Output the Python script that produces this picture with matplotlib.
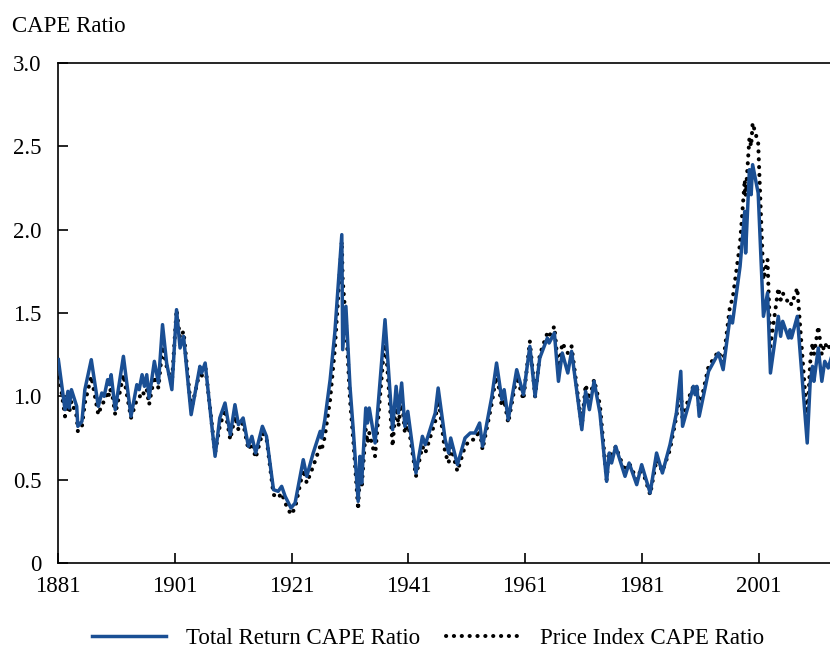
import matplotlib
matplotlib.use("Agg")
import matplotlib.pyplot as plt
from matplotlib.lines import Line2D

plt.rcParams['font.family'] = ['Liberation Serif', 'DejaVu Serif']

years = [1881.06, 1882.2, 1882.7, 1882.9, 1883.3, 1884.2, 1884.4, 1885.1, 1885.6, 1886.7,
         1887.9, 1888.5, 1888.9, 1889.5, 1889.8, 1890.1, 1890.8, 1892.2, 1893.5, 1894.5,
         1894.9, 1895.4, 1895.8, 1896.2, 1896.6, 1897.5, 1898.2, 1898.9, 1899.6, 1900.5,
         1901.3, 1901.9, 1902.5, 1903.8, 1905.3, 1905.6, 1906.2, 1907.9, 1908.7, 1909.6,
         1910.5, 1911.3, 1911.9, 1912.7, 1913.6, 1914.2, 1914.85, 1916.0, 1916.7, 1917.9,
         1918.7, 1919.3, 1919.9, 1920.9, 1921.6, 1923.0, 1923.6, 1924.7, 1925.9, 1926.15,
         1926.7, 1927.6, 1928.4, 1929.6, 1929.75, 1930.3, 1931.0, 1931.6, 1932.4, 1932.7,
         1933.0, 1933.7, 1934.0, 1934.3, 1935.3, 1937.0, 1937.7, 1938.3, 1938.9, 1939.3,
         1939.85, 1940.4, 1940.9, 1942.3, 1943.4, 1943.9, 1945.6, 1946.1, 1947.3, 1947.9,
         1948.25, 1949.4, 1950.7, 1951.6, 1952.4, 1953.2, 1953.7, 1955.3, 1956.1, 1957.0,
         1957.4, 1958.1, 1959.55, 1960.7, 1961.8, 1962.7, 1963.5, 1964.8, 1965.1, 1966.0,
         1966.7, 1967.35, 1968.3, 1968.95, 1970.7, 1971.35, 1972.0, 1972.8, 1973.8, 1974.95,
         1975.4, 1975.8, 1976.5, 1978.1, 1978.8, 1980.1, 1980.95, 1982.4, 1983.5, 1984.5,
         1985.8, 1986.9, 1987.65, 1987.95, 1988.9, 1989.8, 1990.1, 1990.4, 1990.8, 1992.4,
         1994.1, 1994.9, 1996.1, 1996.5, 1997.8, 1998.6, 1998.75, 1999.4, 1999.7, 1999.95,
         2000.9, 2001.8, 2002.5, 2003.0, 2004.35, 2004.75, 2005.1, 2006.1, 2006.35, 2006.6,
         2007.6, 2009.3, 2009.8, 2010.2, 2010.45, 2011.2, 2011.8, 2012.3, 2012.9, 2013.4]

total_return_cape = [1.22, 0.92, 1.03, 0.93, 1.04, 0.94, 0.82, 0.85, 1.04, 1.22,
                     0.94, 1.02, 1.00, 1.10, 1.07, 1.13, 0.92, 1.24, 0.88, 1.07,
                     1.04, 1.13, 1.06, 1.13, 0.99, 1.21, 1.08, 1.43, 1.20, 1.04,
                     1.52, 1.29, 1.36, 0.89, 1.18, 1.14, 1.20, 0.64, 0.87, 0.96,
                     0.77, 0.95, 0.83, 0.87, 0.70, 0.76, 0.66, 0.82, 0.76, 0.44,
                     0.43, 0.46, 0.40, 0.33, 0.36, 0.62, 0.52, 0.66, 0.79, 0.75,
                     0.86, 1.10, 1.38, 1.97, 1.28, 1.54, 1.06, 0.78, 0.37, 0.64,
                     0.48, 0.93, 0.84, 0.93, 0.72, 1.46, 1.10, 0.80, 1.06, 0.90,
                     1.08, 0.82, 0.91, 0.54, 0.76, 0.71, 0.90, 1.05, 0.74, 0.66,
                     0.75, 0.59, 0.75, 0.78, 0.78, 0.84, 0.70, 1.00, 1.20, 0.98,
                     1.04, 0.86, 1.16, 1.01, 1.30, 1.00, 1.23, 1.35, 1.32, 1.38,
                     1.09, 1.26, 1.14, 1.27, 0.80, 1.03, 0.92, 1.09, 0.90, 0.49,
                     0.66, 0.60, 0.70, 0.52, 0.60, 0.47, 0.59, 0.42, 0.66, 0.54,
                     0.71, 0.90, 1.15, 0.82, 0.94, 1.06, 1.01, 1.06, 0.88, 1.15,
                     1.26, 1.16, 1.48, 1.44, 1.78, 2.11, 1.86, 2.36, 2.21, 2.39,
                     2.22, 1.48, 1.62, 1.14, 1.48, 1.36, 1.45, 1.35, 1.40, 1.35,
                     1.48, 0.72, 1.08, 1.18, 1.09, 1.29, 1.09, 1.21, 1.17, 1.23]

price_index_cape = [1.16, 0.88, 0.95, 0.90, 0.97, 0.88, 0.79, 0.82, 0.96, 1.12,
                    0.89, 0.95, 0.97, 1.03, 1.00, 1.06, 0.89, 1.13, 0.87, 0.98,
                    0.99, 1.03, 1.01, 1.04, 0.95, 1.12, 1.05, 1.30, 1.18, 1.08,
                    1.52, 1.35, 1.39, 0.92, 1.15, 1.12, 1.19, 0.66, 0.82, 0.92,
                    0.74, 0.88, 0.80, 0.84, 0.68, 0.72, 0.63, 0.78, 0.75, 0.41,
                    0.39, 0.42, 0.36, 0.29, 0.33, 0.56, 0.48, 0.58, 0.70, 0.68,
                    0.76, 0.98, 1.28, 1.93, 1.70, 1.45, 0.98, 0.72, 0.32, 0.55,
                    0.45, 0.80, 0.72, 0.78, 0.64, 1.36, 1.02, 0.70, 0.98, 0.82,
                    1.00, 0.78, 0.85, 0.52, 0.70, 0.66, 0.85, 1.00, 0.66, 0.60,
                    0.70, 0.55, 0.70, 0.74, 0.74, 0.80, 0.68, 0.96, 1.14, 0.94,
                    0.98, 0.84, 1.12, 0.98, 1.33, 1.00, 1.25, 1.38, 1.36, 1.42,
                    1.15, 1.32, 1.26, 1.30, 0.82, 1.07, 0.98, 1.10, 0.95, 0.50,
                    0.67, 0.63, 0.70, 0.55, 0.60, 0.50, 0.57, 0.41, 0.62, 0.55,
                    0.68, 0.88, 1.05, 0.85, 0.98, 1.06, 1.04, 1.07, 0.92, 1.18,
                    1.27, 1.20, 1.55, 1.58, 1.92, 2.30, 2.20, 2.55, 2.50, 2.64,
                    2.52, 1.70, 1.82, 1.30, 1.65, 1.58, 1.62, 1.56, 1.57, 1.55,
                    1.65, 0.85, 1.20, 1.32, 1.25, 1.42, 1.25, 1.32, 1.28, 1.33]

x_ticks = [1881, 1901, 1921, 1941, 1961, 1981, 2001]
y_ticks = [0, 0.5, 1.0, 1.5, 2.0, 2.5, 3.0]
y_tick_labels = ["0", "0.5", "1.0", "1.5", "2.0", "2.5", "3.0"]

blue = "#1a4f94"
dot_style = (0, (0.05, 1.9))

fig = plt.figure(figsize=(8.30, 6.49), dpi=100)
ax = fig.add_axes([58/830, 1-563/649, 1-58/830, (563-63)/649])

ax.plot(years, price_index_cape, color="black", lw=2.9,
        linestyle=dot_style, dash_capstyle="round", zorder=2)
ax.plot(years, total_return_cape, color=blue, lw=2.5, zorder=3)

ax.set_xlim(1881, 2013.2)
ax.set_ylim(0, 3.0)
ax.set_xticks(x_ticks)
ax.set_xticklabels([str(t) for t in x_ticks])
ax.set_yticks(y_ticks)
ax.set_yticklabels(y_tick_labels)

for s in ["left", "bottom", "top"]:
    ax.spines[s].set_linewidth(1.2)
    ax.spines[s].set_color("black")
ax.spines["right"].set_visible(False)

ax.tick_params(axis="both", direction="in", length=7, width=1.2,
               labelsize=16.5, colors="black")
ax.tick_params(axis="y", pad=12)
ax.tick_params(axis="x", pad=9)

fig.text(12/830, 1-26/649, "CAPE Ratio", fontsize=16.5, ha="left", va="center")

handles = [Line2D([0], [0], color=blue, lw=2.5),
           Line2D([0], [0], color="black", lw=2.9, linestyle=dot_style,
                  dash_capstyle="round")]
fig.legend(handles, ["Total Return CAPE Ratio", "Price Index CAPE Ratio"],
           loc="center", bbox_to_anchor=(428/830, 1-638/649), ncol=2,
           frameon=False, fontsize=16.5, handlelength=3.2, handletextpad=0.9,
           columnspacing=1.1)

fig.savefig("out.png", dpi=100)
